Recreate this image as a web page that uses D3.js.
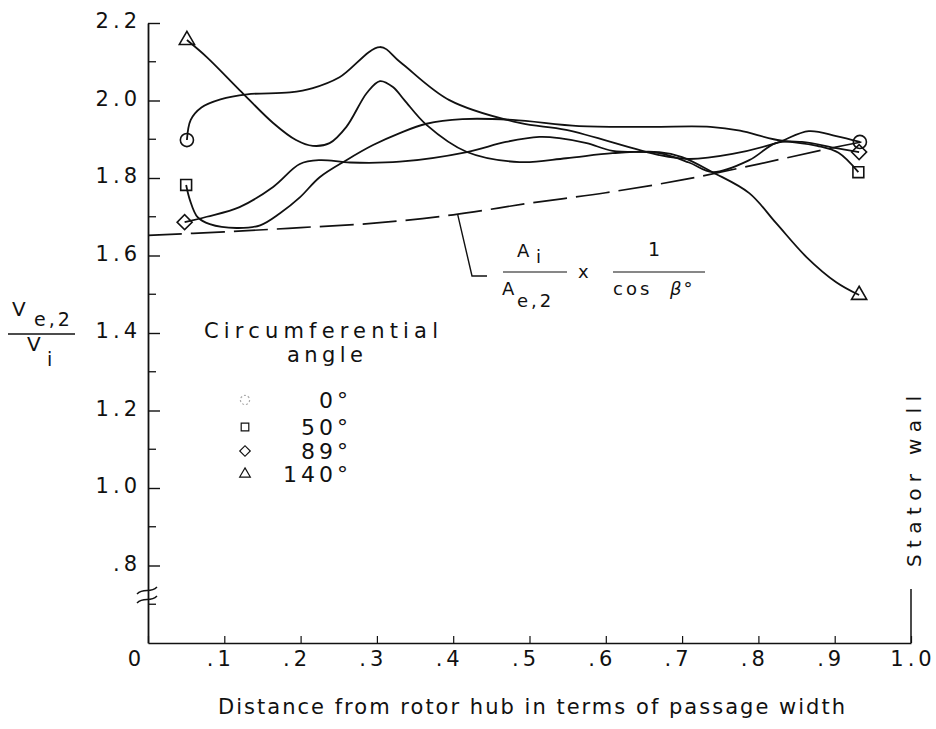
<!DOCTYPE html>
<html>
<head>
<meta charset="utf-8">
<script src="https://cdn.jsdelivr.net/npm/d3@7/dist/d3.min.js"></script>
<style>
  body { margin: 0; background: #fff; }
  svg { display: block; }
  text { font-family: "DejaVu Sans", sans-serif; fill: #111; }
</style>
</head>
<body>
<div id="chart"></div>
<script>
// ── Data ─────────────────────────────────────────────────────────
const xTicks = [0, .1, .2, .3, .4, .5, .6, .7, .8, .9, 1.0];
const xTickLabels = ['0', '.1', '.2', '.3', '.4', '.5', '.6', '.7', '.8', '.9', '1.0'];
const yTicks = [.8, 1.0, 1.2, 1.4, 1.6, 1.8, 2.0, 2.2];
const yTickLabels = ['.8', '1.0', '1.2', '1.4', '1.6', '1.8', '2.0', '2.2'];
const yMinorTicks = [.7, .9, 1.1, 1.3, 1.5, 1.7, 1.9, 2.1];

const angleLabels = ['0°', '50°', '89°', '140°'];

// faired curves, [distance, Ve2/Vi]; first and last points are the measured ends
const angle0 = [
  [0.051, 1.898], [0.056, 1.950], [0.070, 1.982], [0.095, 2.003], [0.130, 2.016],
  [0.186, 2.021], [0.216, 2.032], [0.251, 2.060], [0.304, 2.138], [0.330, 2.100],
  [0.395, 2.001], [0.487, 1.942], [0.548, 1.924], [0.670, 1.859], [0.709, 1.849],
  [0.766, 1.862], [0.823, 1.890], [0.866, 1.921], [0.902, 1.908], [0.933, 1.893]
];
const angle50 = [
  [0.050, 1.782], [0.055, 1.743], [0.065, 1.699], [0.081, 1.681], [0.116, 1.671],
  [0.147, 1.678], [0.173, 1.709], [0.199, 1.750], [0.225, 1.802], [0.260, 1.846],
  [0.295, 1.885], [0.330, 1.916], [0.365, 1.940], [0.412, 1.952], [0.478, 1.950],
  [0.565, 1.934], [0.657, 1.932], [0.737, 1.932], [0.776, 1.922], [0.820, 1.900],
  [0.877, 1.883], [0.905, 1.865], [0.931, 1.815]
];
const angle89 = [
  [0.048, 1.686], [0.077, 1.700], [0.120, 1.725], [0.164, 1.777], [0.199, 1.836],
  [0.225, 1.846], [0.265, 1.840], [0.330, 1.842], [0.418, 1.867], [0.469, 1.893],
  [0.513, 1.906], [0.539, 1.903], [0.575, 1.890], [0.609, 1.870], [0.670, 1.864],
  [0.709, 1.840], [0.740, 1.815], [0.788, 1.846], [0.823, 1.890], [0.857, 1.893],
  [0.902, 1.877], [0.932, 1.867]
];
const angle140 = [
  [0.051, 2.156], [0.077, 2.112], [0.120, 2.027], [0.164, 1.942], [0.194, 1.898],
  [0.216, 1.883], [0.238, 1.890], [0.260, 1.932], [0.287, 2.020], [0.304, 2.050],
  [0.321, 2.035], [0.336, 2.001], [0.365, 1.937], [0.418, 1.867], [0.487, 1.841],
  [0.548, 1.851], [0.609, 1.864], [0.670, 1.867], [0.700, 1.854], [0.740, 1.815],
  [0.788, 1.761], [0.823, 1.684], [0.863, 1.596], [0.902, 1.531], [0.932, 1.498]
];
// area ratio x 1/cos(beta) reference line
const areaRatio = [
  [0.0, 1.652], [0.1, 1.661], [0.2, 1.672], [0.3, 1.684], [0.4, 1.705],
  [0.5, 1.735], [0.6, 1.762], [0.7, 1.795], [0.8, 1.836], [0.9, 1.879], [0.935, 1.893]
];

const series = [
  { name: angleLabels[0], values: angle0, symbol: 'circle' },
  { name: angleLabels[1], values: angle50, symbol: 'square' },
  { name: angleLabels[2], values: angle89, symbol: 'diamond' },
  { name: angleLabels[3], values: angle140, symbol: 'triangle' }
];

// ── Setup ────────────────────────────────────────────────────────
const W = 936, H = 729;
const svg = d3.select('#chart').append('svg').attr('width', W).attr('height', H);

const x = d3.scaleLinear().domain([0, 1]).range([148, 911]);
const y = d3.scaleLinear().domain([0.6, 2.2]).range([643, 23]);

const ink = '#111';

function symbolPath(kind, scale) {
  const s = scale || 1;
  if (kind === 'circle') return d3.symbol(d3.symbolCircle, 135 * s * s)();
  if (kind === 'square') return d3.symbol(d3.symbolSquare, 118 * s * s)();
  if (kind === 'diamond') return d3.symbol(d3.symbolSquare, 112 * s * s)();
  return d3.symbol(d3.symbolTriangle, 100 * s * s)();
}

// ── Axes ─────────────────────────────────────────────────────────
const yAxis = d3.axisLeft(y)
  .tickValues(yTicks)
  .tickFormat((d, i) => yTickLabels[i])
  .tickSizeInner(-12)
  .tickSizeOuter(0)
  .tickPadding(7);

const gy = svg.append('g').attr('transform', `translate(${x(0)},0)`).call(yAxis);
gy.select('.domain').attr('stroke', ink).attr('stroke-width', 1.8);
gy.selectAll('.tick line').attr('stroke', ink).attr('stroke-width', 1.4);
gy.selectAll('.tick text')
  .attr('font-size', 21)
  .attr('font-family', '"DejaVu Sans", sans-serif')
  .attr('letter-spacing', 4)
  .attr('fill', ink)
  .attr('dy', '0.22em');

svg.append('g').selectAll('line')
  .data(yMinorTicks)
  .join('line')
  .attr('x1', x(0)).attr('x2', x(0) + 8)
  .attr('y1', d => y(d)).attr('y2', d => y(d))
  .attr('stroke', ink).attr('stroke-width', 1.3);

// axis break
const brk = svg.append('g').attr('fill', 'none').attr('stroke', ink).attr('stroke-width', 1.5);
[0, 9].forEach(off => {
  const yb = 591 + off;
  brk.append('path')
    .attr('d', `M${x(0) - 11},${yb + 3} C${x(0) - 4},${yb - 4} ${x(0) + 2},${yb + 3} ${x(0) + 9},${yb - 4}`);
});

const xAxis = d3.axisBottom(x)
  .tickValues(xTicks)
  .tickFormat('')
  .tickSizeInner(-7)
  .tickSizeOuter(0);

const gx = svg.append('g').attr('transform', `translate(0,${y(0.6)})`).call(xAxis);
gx.select('.domain').attr('stroke', ink).attr('stroke-width', 1.5);
gx.selectAll('.tick line').attr('stroke', ink).attr('stroke-width', 1.2);

svg.append('g').selectAll('text')
  .data(xTicks)
  .join('text')
  .attr('font-size', 21)
  .attr('letter-spacing', 4)
  .attr('y', y(0.6) + 23)
  .attr('text-anchor', (d, i) => i === xTicks.length - 1 ? 'middle' : 'end')
  .attr('x', (d, i) => {
    if (i === 0) return x(d) - 3;
    if (i === xTicks.length - 1) return x(d) + 2;
    return x(d) + 10.5;
  })
  .text((d, i) => xTickLabels[i]);

// stator wall marker
svg.append('line')
  .attr('x1', x(1)).attr('x2', x(1))
  .attr('y1', y(0.6)).attr('y2', y(0.6) - 54)
  .attr('stroke', ink).attr('stroke-width', 1.5);
svg.append('text')
  .attr('transform', `translate(${x(1) + 10},${y(0.6) - 76}) rotate(-90)`)
  .attr('font-size', 20)
  .attr('textLength', 171)
  .attr('lengthAdjust', 'spacing')
  .text('Stator wall');

// axis titles
svg.append('text')
  .attr('x', 218).attr('y', 714)
  .attr('font-size', 21)
  .attr('textLength', 627)
  .attr('lengthAdjust', 'spacing')
  .text('Distance from rotor hub in terms of passage width');

const yl = svg.append('g');
yl.append('text').attr('x', 12).attr('y', 316).attr('font-size', 20).text('V');
yl.append('text').attr('x', 34).attr('y', 326).attr('font-size', 19).attr('letter-spacing', 3).text('e,2');
yl.append('line').attr('x1', 8).attr('x2', 75).attr('y1', 334).attr('y2', 334)
  .attr('stroke', ink).attr('stroke-width', 1.3);
yl.append('text').attr('x', 27).attr('y', 351).attr('font-size', 20).text('V');
yl.append('text').attr('x', 47).attr('y', 366).attr('font-size', 19).text('i');

// ── Curves ───────────────────────────────────────────────────────
const line = d3.line()
  .x(d => x(d[0]))
  .y(d => y(d[1]))
  .curve(d3.curveCatmullRom.alpha(0.5));

svg.append('path')
  .datum(areaRatio)
  .attr('d', line)
  .attr('fill', 'none')
  .attr('stroke', ink)
  .attr('stroke-width', 1.7)
  .attr('stroke-dasharray', '34,9');

svg.append('g').selectAll('path')
  .data(series)
  .join('path')
  .attr('d', d => line(d.values))
  .attr('fill', 'none')
  .attr('stroke', ink)
  .attr('stroke-width', 1.8);

// end markers
const ends = series.flatMap(s => [s.values[0], s.values[s.values.length - 1]].map(p => ({ p, symbol: s.symbol })));
svg.append('g').selectAll('path')
  .data(ends)
  .join('path')
  .attr('d', d => symbolPath(d.symbol))
  .attr('transform', d => `translate(${x(d.p[0])},${y(d.p[1])})` + (d.symbol === 'diamond' ? ' rotate(45)' : ''))
  .attr('fill', 'none')
  .attr('stroke', ink)
  .attr('stroke-width', 1.6);

// ── Formula annotation ──────────────────────────────────────────
svg.append('path')
  .attr('d', `M${x(0.406)},${y(1.705)} L472,276 L487,276`)
  .attr('fill', 'none').attr('stroke', ink).attr('stroke-width', 1.4);

const f = svg.append('g').attr('font-size', 18);
f.append('text').attr('x', 517).attr('y', 257).text('A');
f.append('text').attr('x', 536).attr('y', 263).text('i');
f.append('line').attr('x1', 503).attr('x2', 567).attr('y1', 272).attr('y2', 272).attr('stroke', ink).attr('stroke-width', 1.2);
f.append('text').attr('x', 502).attr('y', 295).text('A');
f.append('text').attr('x', 517).attr('y', 307).attr('letter-spacing', 3).text('e,2');
f.append('text').attr('x', 578).attr('y', 278).text('x');
f.append('text').attr('x', 648).attr('y', 256).attr('font-size', 19).text('1');
f.append('line').attr('x1', 613).attr('x2', 705).attr('y1', 272).attr('y2', 272).attr('stroke', ink).attr('stroke-width', 1.2);
f.append('text').attr('x', 613).attr('y', 295).attr('letter-spacing', 3).text('cos');
f.append('text').attr('x', 670).attr('y', 295).attr('font-style', 'italic').attr('letter-spacing', 2).text('β°');

// ── Legend ──────────────────────────────────────────────────────
svg.append('text')
  .attr('x', 204).attr('y', 338)
  .attr('font-size', 21)
  .attr('textLength', 234)
  .attr('lengthAdjust', 'spacing')
  .text('Circumferential');
svg.append('text')
  .attr('x', 287).attr('y', 362)
  .attr('font-size', 21)
  .attr('textLength', 76)
  .attr('lengthAdjust', 'spacing')
  .text('angle');

const legendY = [400, 427, 451, 474];
const lg = svg.append('g').selectAll('g')
  .data(series)
  .join('g')
  .attr('transform', (d, i) => `translate(0,${legendY[i]})`);
lg.append('path')
  .attr('d', d => symbolPath(d.symbol, 0.7))
  .attr('transform', d => 'translate(245,0)' + (d.symbol === 'diamond' ? ' rotate(45)' : ''))
  .attr('fill', 'none')
  .attr('stroke', (d, i) => i === 0 ? '#aaa' : ink)
  .attr('stroke-dasharray', (d, i) => i === 0 ? '2,2' : null)
  .attr('stroke-width', 1.2);
lg.append('text')
  .attr('x', 352)
  .attr('y', 8)
  .attr('text-anchor', 'end')
  .attr('font-size', 22)
  .attr('letter-spacing', 4)
  .text(d => d.name);
</script>
</body>
</html>
